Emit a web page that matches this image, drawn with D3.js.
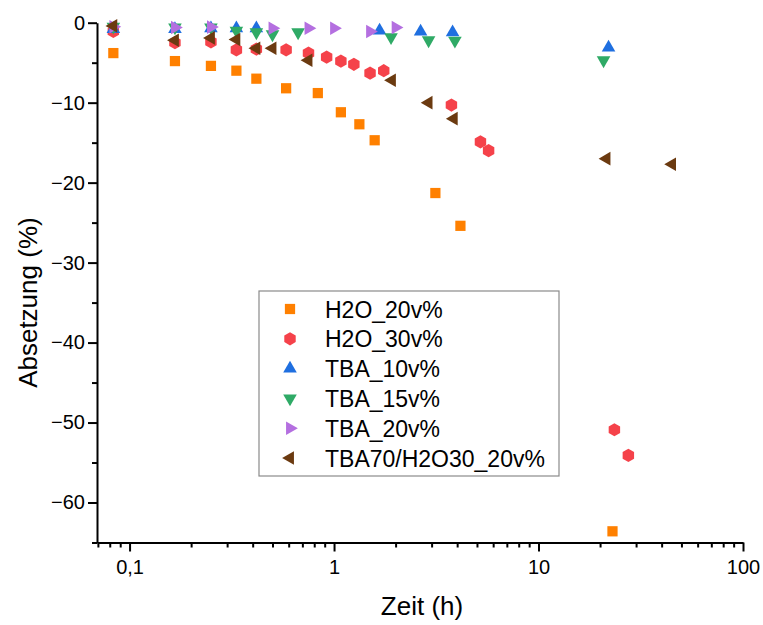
<!DOCTYPE html>
<html>
<head>
<meta charset="utf-8">
<script src="https://cdn.jsdelivr.net/npm/d3@7"></script>
<style>
  body { margin: 0; background: #fff; }
  svg { font-family: "Liberation Sans", Arial, sans-serif; }
  .axis path, .axis line { stroke: #000; stroke-width: 2; }
  .axis text { font-size: 20px; fill: #000; }
</style>
</head>
<body>
<div id="chart"></div>
<script>
// series: time (h) and settling (%)
const seriesNames = ["H2O_20v%", "H2O_30v%", "TBA_10v%", "TBA_15v%", "TBA_20v%", "TBA70/H2O30_20v%"];

const h2o20_t = [0.0833, 0.1667, 0.25, 0.333, 0.417, 0.583, 0.833, 1.08, 1.33, 1.58, 3.13, 4.15, 23.0];
const h2o20_v = [-3.8, -4.8, -5.4, -6.0, -7.0, -8.2, -8.8, -11.2, -12.7, -14.7, -21.3, -25.4, -63.6];

const h2o30_t = [0.0833, 0.1667, 0.25, 0.333, 0.417, 0.583, 0.75, 0.92, 1.08, 1.25, 1.5, 1.75, 3.75, 5.2, 5.7, 23.5, 27.5];
const h2o30_v = [-1.1, -2.5, -2.4, -3.4, -3.3, -3.4, -3.8, -4.3, -4.8, -5.2, -6.3, -6.0, -10.3, -14.9, -16.0, -50.9, -54.1];

const tba10_t = [0.0833, 0.1667, 0.25, 0.333, 0.417, 1.67, 2.65, 3.8, 22.0];
const tba10_v = [-0.8, -0.8, -0.7, -0.7, -0.7, -1.0, -1.1, -1.2, -3.1];

const tba15_t = [0.0833, 0.1667, 0.25, 0.333, 0.417, 0.5, 0.667, 1.9, 2.9, 3.9, 20.8];
const tba15_v = [-0.5, -0.6, -0.6, -1.0, -1.2, -1.45, -1.2, -1.8, -2.2, -2.25, -4.7];

const tba20_t = [0.0833, 0.1667, 0.25, 0.5, 0.75, 1.0, 1.5, 2.0];
const tba20_v = [-0.5, -0.6, -0.55, -0.7, -0.7, -0.7, -1.1, -0.6];

const mix_t = [0.0833, 0.1667, 0.25, 0.333, 0.417, 0.5, 0.75, 1.92, 2.9, 3.85, 21.5, 45.0];
const mix_v = [-0.4, -2.2, -1.9, -2.1, -3.2, -3.2, -4.7, -7.2, -10.0, -12.0, -17.0, -17.7];

const xMajor = [0.1, 1, 10, 100];
const xLabels = ["0,1", "1", "10", "100"];
const yMajor = [0, -10, -20, -30, -40, -50, -60];

const colors = ["#ff8000", "#f5424a", "#1f6fe0", "#2faa66", "#b46fe0", "#6b3a10"];
const shapes = ["square", "hexagon", "up", "down", "right", "left"];

const allSeries = [
  [h2o20_t, h2o20_v], [h2o30_t, h2o30_v], [tba10_t, tba10_v],
  [tba15_t, tba15_v], [tba20_t, tba20_v], [mix_t, mix_v]
].map((s, i) => ({
  name: seriesNames[i], color: colors[i], shape: shapes[i],
  points: s[0].map((t, j) => ({ t: t, v: s[1][j] }))
}));

const W = 763, H = 625;
const margin = { left: 97, right: 20, top: 22.7, bottom: 82.5 };
const width = W - margin.left - margin.right;
const height = H - margin.top - margin.bottom;

const svg = d3.select("#chart").append("svg")
  .attr("width", W).attr("height", H);
const g = svg.append("g")
  .attr("transform", "translate(" + margin.left + "," + margin.top + ")");

const x = d3.scaleLog().domain([0.0693, 100]).range([0, width]);
const y = d3.scaleLinear().domain([-65, 0]).range([height, 0]);

// marker path generator
function markerPath(shape) {
  if (shape === "square") return d3.symbol(d3.symbolSquare, 105)();
  if (shape === "hexagon") {
    const r = 6.6;
    return d3.line()(d3.range(6).map(k => {
      const a = Math.PI / 6 + k * Math.PI / 3;
      return [r * Math.cos(a), r * Math.sin(a)];
    })) + "Z";
  }
  return d3.symbol(d3.symbolTriangle, 80)();
}
function markerRot(shape) {
  return { up: 0, down: 180, right: 90, left: -90 }[shape] || 0;
}

// axes
const xMinor = [];
[0.01, 0.1, 1, 10].forEach(b => { for (let k = 2; k <= 9; k++) xMinor.push(b * k); });
g.append("g").attr("class", "axis")
  .attr("transform", "translate(0," + height + ")")
  .call(d3.axisBottom(x).tickValues(xMinor.filter(v => v >= 0.0693 && v <= 100))
    .tickSize(5).tickFormat(""))
  .select(".domain").remove();
g.append("g").attr("class", "axis")
  .attr("transform", "translate(0," + height + ")")
  .call(d3.axisBottom(x).tickValues(xMajor).tickSize(9).tickSizeOuter(0)
    .tickPadding(8).tickFormat((d, i) => xLabels[i]));

g.append("g").attr("class", "axis")
  .call(d3.axisLeft(y).tickValues(d3.range(-65, 1, 5).filter(v => v % 10 !== 0))
    .tickSize(5).tickFormat(""))
  .select(".domain").remove();
g.append("g").attr("class", "axis")
  .call(d3.axisLeft(y).tickValues(yMajor).tickSize(9).tickSizeOuter(0)
    .tickPadding(3).tickFormat(d3.format("d")));

// axis titles
svg.append("text")
  .attr("x", margin.left + width / 2 + 2).attr("y", 615)
  .attr("text-anchor", "middle").attr("font-size", 26)
  .text("Zeit (h)");
svg.append("text")
  .attr("transform", "translate(37," + (margin.top + height / 2 + 20) + ") rotate(-90)")
  .attr("text-anchor", "middle").attr("font-size", 26)
  .text("Absetzung (%)");

// points
allSeries.forEach(s => {
  g.append("g").selectAll("path")
    .data(s.points).enter().append("path")
    .attr("d", markerPath(s.shape))
    .attr("fill", s.color)
    .attr("transform", d => "translate(" + x(d.t) + "," + y(d.v) + ") rotate(" + markerRot(s.shape) + ")");
});

// legend
const lg = svg.append("g").attr("transform", "translate(259,291)");
lg.append("rect").attr("width", 300).attr("height", 185)
  .attr("fill", "#fff").attr("stroke", "#8a8a8a").attr("stroke-width", 1.2);
allSeries.forEach((s, i) => {
  const row = lg.append("g").attr("transform", "translate(0," + (18 + i * 29.8) + ")");
  row.append("path").attr("d", markerPath(s.shape))
    .attr("fill", s.color)
    .attr("transform", "translate(31,0) rotate(" + markerRot(s.shape) + ")");
  row.append("text").attr("x", 66).attr("y", 8.5)
    .attr("font-size", 23).text(s.name);
});
</script>
</body>
</html>
